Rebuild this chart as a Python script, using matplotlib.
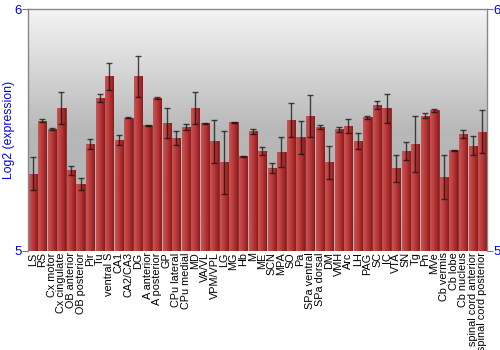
import numpy as np
import matplotlib
matplotlib.use("Agg")
import matplotlib.pyplot as plt
from matplotlib.colors import LinearSegmentedColormap

categories = ["LS", "RS", "Cx motor", "Cx cingulate", "OB anterior", "OB posterior", "Pir", "Tu",
              "ventral S", "CA1", "CA2/CA3", "DG", "A anterior", "A posterior", "GP", "CPu lateral",
              "CPu medial", "MD", "VA/VL", "VPM/VPL", "LG", "MG", "Hb", "M", "ME", "SCN", "MPA", "SO",
              "Pa", "SPa ventral", "SPa dorsal", "DM", "VMH", "Arc", "LH", "PAG", "SC", "IC", "VTA",
              "SN", "Tg", "Pn", "MVe", "Cb vermis", "Cb lobe", "Cb nucleus",
              "spinal cord anterior", "spinal cord posterior"]
values = [5.319, 5.539, 5.504, 5.591, 5.333, 5.276, 5.443, 5.633,
          5.722, 5.459, 5.551, 5.722, 5.519, 5.631, 5.529, 5.467,
          5.512, 5.591, 5.528, 5.454, 5.366, 5.532, 5.392, 5.494, 5.413, 5.344, 5.409, 5.541,
          5.470, 5.558, 5.511, 5.366, 5.503, 5.517, 5.454, 5.552, 5.604, 5.590, 5.341,
          5.414, 5.442, 5.559, 5.581, 5.305, 5.417, 5.483,
          5.436, 5.493]
errors = [0.068, 0.005, 0.004, 0.068, 0.018, 0.026, 0.020, 0.017,
          0.057, 0.020, 0.003, 0.086, 0.002, 0.004, 0.061, 0.027,
          0.012, 0.068, 0.002, 0.089, 0.129, 0.002, 0.002, 0.009, 0.017, 0.021, 0.061, 0.070,
          0.068, 0.088, 0.008, 0.068, 0.010, 0.028, 0.034, 0.007, 0.015, 0.059, 0.056,
          0.037, 0.115, 0.011, 0.006, 0.090, 0.002, 0.016,
          0.041, 0.089]
y_ticks = [5, 6]

fig = plt.figure(figsize=(5, 3.5), dpi=100)
ax = fig.add_axes([0.056, 0.283, 0.918, 0.691])
n = len(categories)
x = np.arange(n)
ax.set_xlim(-0.5, n - 0.5)
ax.set_ylim(5, 6)

# background gradient
bg = np.linspace(0, 1, 256).reshape(-1, 1)
bgcmap = LinearSegmentedColormap.from_list("bg", ["#b0b0b0", "#b8b8b8", "#f4f4f4"])
ax.imshow(bg, aspect="auto", cmap=bgcmap, extent=(-0.5, n - 0.5, 5, 6), origin="lower", zorder=0)

bars = ax.bar(x, [v - 5 for v in values], bottom=5, width=0.86, color="#b03030",
              edgecolor="#7a1a1a", linewidth=0.5, zorder=2)
barcmap = LinearSegmentedColormap.from_list("bar", ["#c85454", "#b83838", "#8a1c1c"])
grad = np.linspace(0, 1, 64).reshape(1, -1)
for b in bars:
    x0, y0 = b.get_x(), b.get_y()
    w, h = b.get_width(), b.get_height()
    im = ax.imshow(grad, aspect="auto", cmap=barcmap, extent=(x0, x0 + w, y0, y0 + h),
                   origin="lower", zorder=2.5)
    im.set_clip_path(b)

ax.errorbar(x, values, yerr=errors, fmt="none", ecolor="#111111", elinewidth=1.0,
            capsize=2, capthick=1.0, alpha=0.75, zorder=3)

ax.set_xticks(x)
ax.set_xticklabels(categories, rotation=90, fontsize=7.8, family="Liberation Sans")
ax.tick_params(axis="x", length=0, pad=1)
ax.set_yticks(y_ticks)
ax.set_yticklabels([str(t) for t in y_ticks], color="#0000ee", fontsize=9.5, family="Liberation Sans")
ax.tick_params(axis="y", length=4, color="#777777", pad=0.5, labelright=True, right=True)
ax.set_ylabel("Log2 (expression)", color="#0000ee", fontsize=8.8, family="Liberation Sans", labelpad=0)
ax.yaxis.set_label_coords(-0.029, 0.5)
for s in ["left", "right", "top"]:
    ax.spines[s].set_color("#888888")
    ax.spines[s].set_linewidth(1)
ax.spines["bottom"].set_visible(False)

fig.savefig("out.png", dpi=100)
